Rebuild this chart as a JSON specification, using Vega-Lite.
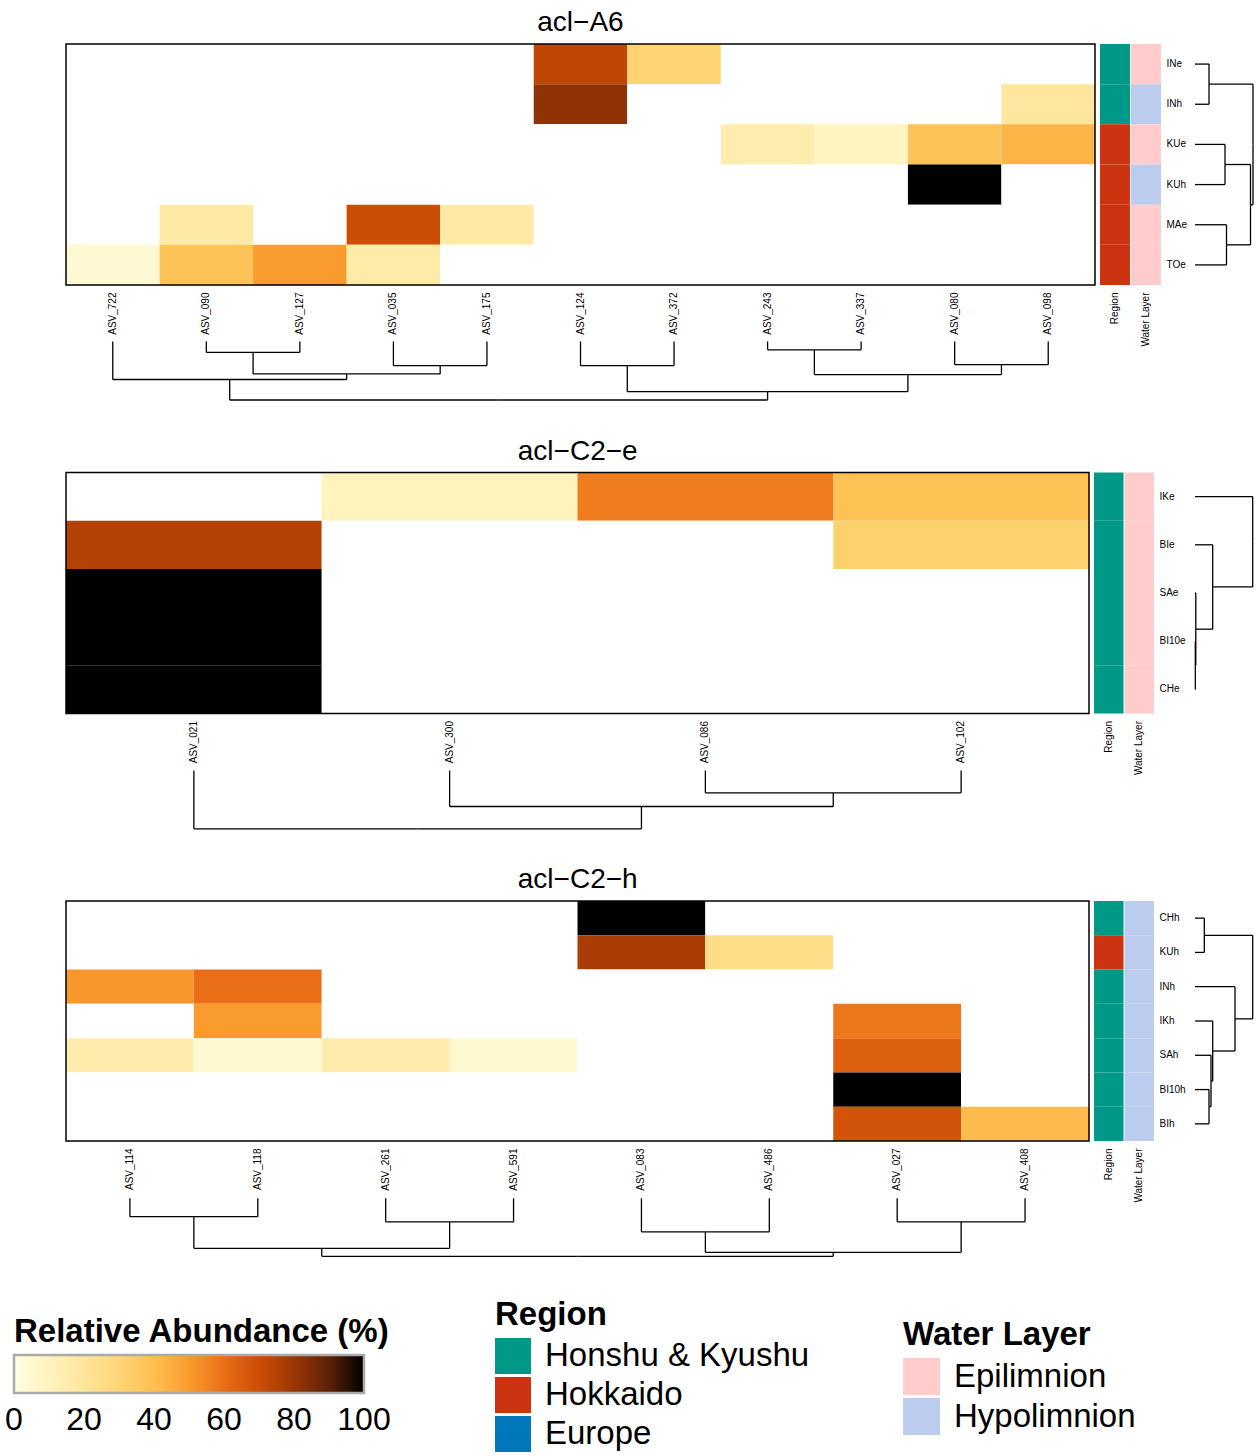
{
"$schema": "https://vega.github.io/schema/vega-lite/v6.json",
"padding": {"left": 14, "top": 9, "right": 0, "bottom": 0},
"background": "white",
"config": {
  "font": "Liberation Sans",
  "view": {"stroke": null},
  "title": {"fontSize": 28, "fontWeight": "normal", "anchor": "middle", "baseline": "alphabetic", "color": "black"},
  "axis": {"labelColor": "black"},
  "legend": {"padding": 0, "titleColor": "black", "labelColor": "black", "titleFontWeight": "bold", "labelLimit": 600, "titleLimit": 600}
},
"spacing": 36.5,
"vconcat": [
{
  "title": {"text": "acl−A6", "dx": -79, "offset": -8.2},
  "bounds": "flush",
  "spacing": 5,
  "hconcat": [
  {
    "width": 1029, "height": 357,
    "layer": [
      {"data": {"name": "hm1"}, "mark": {"type": "rect"},
       "encoding": {
         "x": {"field": "c", "type": "nominal", "scale": {"domain": ["ASV_722","ASV_090","ASV_127","ASV_035","ASV_175","ASV_124","ASV_372","ASV_243","ASV_337","ASV_080","ASV_098"], "paddingInner": 0, "paddingOuter": 0},
               "axis": {"orient": "bottom", "offset": -116, "labelAngle": -90, "ticks": false, "tickSize": 0, "domain": false, "labelPadding": 7, "labelFontSize": 10, "title": null}},
         "y": {"field": "r", "type": "nominal", "scale": {"domain": ["INe","INh","KUe","KUh","MAe","TOe"], "range": [0, 241], "paddingInner": 0, "paddingOuter": 0}, "axis": null},
         "color": {"condition": {"test": "datum.v == 0", "value": "#ffffff"}, "field": "v", "type": "quantitative",
                   "scale": {"domain": [0,10,20,30,40,50,60,70,80,90,100], "range": ["#FFFDE1","#FFF3BE","#FEE59A","#FED577","#FDBF50","#FA9B2D","#EA6E17","#CC4E06","#9C3604","#5C2208","#000000"], "interpolate": "rgb"},
                   "legend": {"title": "Relative Abundance (%)", "orient": "none", "legendX": -52, "legendY": 1272, "direction": "horizontal", "gradientLength": 350, "gradientThickness": 38, "gradientStrokeColor": "#aaaaaa", "gradientStrokeWidth": 2.5, "values": [0,20,40,60,80,100], "labelFontSize": 32, "labelAlign": "center", "labelOffset": 12, "titleFontSize": 33, "titlePadding": 6,
                              "encode": {"labels": {"update": {"align": {"value": "center"}}}}}}
       }},
      {"data": {"values": [{}]}, "mark": {"type": "rect", "filled": false, "stroke": "black", "strokeWidth": 1.5},
       "encoding": {
         "x": {"datum": 0, "type": "quantitative", "scale": {"domain": [0, 11], "nice": false, "zero": false}, "axis": null},
         "x2": {"datum": 11},
         "y": {"datum": 0, "type": "quantitative", "scale": {"domain": [0, 6], "range": [0, 241], "nice": false, "zero": false}, "axis": null},
         "y2": {"datum": 6}
       }},
      {"data": {"name": "cd1"}, "mark": {"type": "rule", "color": "black", "strokeWidth": 1.3},
       "encoding": {
         "x": {"field": "x", "type": "quantitative", "scale": {"domain": [0, 11], "nice": false, "zero": false}, "axis": null},
         "y": {"field": "h", "type": "quantitative", "scale": {"domain": [0, 58.5], "range": [297.5, 356], "nice": false, "zero": false}, "axis": null},
         "y2": {"field": "ph"}
       }},
      {"data": {"name": "cd1"}, "mark": {"type": "rule", "color": "black", "strokeWidth": 1.3},
       "encoding": {
         "x": {"field": "x", "type": "quantitative", "scale": {"domain": [0, 11], "nice": false, "zero": false}, "axis": null},
         "x2": {"field": "px"},
         "y": {"field": "ph", "type": "quantitative", "scale": {"domain": [0, 58.5], "range": [297.5, 356], "nice": false, "zero": false}, "axis": null}
       }}
    ],
    "resolve": {"scale": {"x": "independent", "y": "independent"}}
  },
  {
    "width": 61, "height": 241,
    "data": {"name": "an1"},
    "layer": [
      {"transform": [{"filter": "datum.var == 'Region'"}], "mark": {"type": "rect"},
       "encoding": {
         "x": {"field": "var", "type": "nominal", "scale": {"domain": ["Region","Water Layer"], "paddingInner": 0.03, "paddingOuter": 0}, "axis": {"orient": "bottom", "labelAngle": -90, "ticks": false, "tickSize": 0, "domain": false, "labelPadding": 7, "labelFontSize": 10, "title": null}},
         "y": {"field": "r", "type": "nominal", "scale": {"domain": ["INe","INh","KUe","KUh","MAe","TOe"], "paddingInner": 0, "paddingOuter": 0}, "axis": {"orient": "right", "ticks": false, "tickSize": 0, "domain": false, "labelPadding": 5, "labelFontSize": 10, "title": null}},
         "fill": {"field": "val", "type": "nominal", "scale": {"domain": ["Honshu & Kyushu","Hokkaido","Europe"], "range": ["#009988","#CC3311","#0077BB"]},
                  "legend": {"title": "Region", "orient": "none", "legendX": 429, "legendY": 1255, "symbolType": "square", "symbolSize": 1296, "symbolStrokeWidth": 0, "labelFontSize": 33, "labelOffset": 14, "rowPadding": 3, "titleFontSize": 33, "titlePadding": 6}}
       }},
      {"transform": [{"filter": "datum.var == 'Water Layer'"}], "mark": {"type": "rule", "strokeWidth": 30, "yOffset": -20.08, "y2Offset": 20.08},
       "encoding": {
         "x": {"field": "var", "type": "nominal", "scale": {"domain": ["Region","Water Layer"], "paddingInner": 0.03, "paddingOuter": 0}, "axis": {"orient": "bottom", "labelAngle": -90, "ticks": false, "tickSize": 0, "domain": false, "labelPadding": 7, "labelFontSize": 10, "title": null}},
         "y": {"field": "r", "type": "nominal", "scale": {"domain": ["INe","INh","KUe","KUh","MAe","TOe"], "paddingInner": 0, "paddingOuter": 0}, "axis": {"orient": "right", "ticks": false, "tickSize": 0, "domain": false, "labelPadding": 5, "labelFontSize": 10, "title": null}},
         "y2": {"field": "r"},
         "stroke": {"field": "val", "type": "nominal", "scale": {"domain": ["Epilimnion","Hypolimnion"], "range": ["#FFCCCC","#BBCCEE"]},
                    "legend": {"title": "Water Layer", "orient": "none", "legendX": 837, "legendY": 1275, "symbolType": "square", "symbolSize": 1369, "symbolStrokeWidth": 0, "labelFontSize": 33, "labelOffset": 14, "rowPadding": 3, "titleFontSize": 33, "titlePadding": 6,
                               "encode": {"symbols": {"update": {"fill": {"scale": "stroke", "field": "value"}, "fillOpacity": {"value": 1}, "strokeWidth": {"value": 0}}}}}}
       }}
    ]
  },
  {
    "width": 87.3, "height": 241,
    "data": {"name": "rd1"},
    "layer": [
      {"mark": {"type": "rule", "color": "black", "strokeWidth": 1.3},
       "encoding": {
         "x": {"field": "h", "type": "quantitative", "scale": {"domain": [0, 58.3], "range": [29, 87.3], "nice": false, "zero": false}, "axis": null},
         "x2": {"field": "ph"},
         "y": {"field": "y", "type": "quantitative", "scale": {"domain": [0, 6], "nice": false, "zero": false, "reverse": true}, "axis": null}
       }},
      {"mark": {"type": "rule", "color": "black", "strokeWidth": 1.3},
       "encoding": {
         "x": {"field": "ph", "type": "quantitative", "scale": {"domain": [0, 58.3], "range": [29, 87.3], "nice": false, "zero": false}, "axis": null},
         "y": {"field": "y", "type": "quantitative", "scale": {"domain": [0, 6], "nice": false, "zero": false, "reverse": true}, "axis": null},
         "y2": {"field": "py"}
       }}
    ]
  }
  ]
},
{
  "title": {"text": "acl−C2−e", "dx": -81.6, "offset": -7.9},
  "bounds": "flush",
  "spacing": 5,
  "hconcat": [
  {
    "width": 1023, "height": 357,
    "layer": [
      {"data": {"name": "hm2"}, "mark": {"type": "rect"},
       "encoding": {
         "x": {"field": "c", "type": "nominal", "scale": {"domain": ["ASV_021","ASV_300","ASV_086","ASV_102"], "paddingInner": 0, "paddingOuter": 0},
               "axis": {"orient": "bottom", "offset": -116, "labelAngle": -90, "ticks": false, "tickSize": 0, "domain": false, "labelPadding": 7, "labelFontSize": 10, "title": null}},
         "y": {"field": "r", "type": "nominal", "scale": {"domain": ["IKe","BIe","SAe","BI10e","CHe"], "range": [0, 241], "paddingInner": 0, "paddingOuter": 0}, "axis": null},
         "color": {"condition": {"test": "datum.v == 0", "value": "#ffffff"}, "field": "v", "type": "quantitative",
                   "scale": {"domain": [0,10,20,30,40,50,60,70,80,90,100], "range": ["#FFFDE1","#FFF3BE","#FEE59A","#FED577","#FDBF50","#FA9B2D","#EA6E17","#CC4E06","#9C3604","#5C2208","#000000"], "interpolate": "rgb"}}
       }},
      {"data": {"values": [{}]}, "mark": {"type": "rect", "filled": false, "stroke": "black", "strokeWidth": 1.5},
       "encoding": {
         "x": {"datum": 0, "type": "quantitative", "scale": {"domain": [0, 4], "nice": false, "zero": false}, "axis": null},
         "x2": {"datum": 4},
         "y": {"datum": 0, "type": "quantitative", "scale": {"domain": [0, 5], "range": [0, 241], "nice": false, "zero": false}, "axis": null},
         "y2": {"datum": 5}
       }},
      {"data": {"name": "cd2"}, "mark": {"type": "rule", "color": "black", "strokeWidth": 1.3},
       "encoding": {
         "x": {"field": "x", "type": "quantitative", "scale": {"domain": [0, 4], "nice": false, "zero": false}, "axis": null},
         "y": {"field": "h", "type": "quantitative", "scale": {"domain": [0, 58.3], "range": [298, 356.3], "nice": false, "zero": false}, "axis": null},
         "y2": {"field": "ph"}
       }},
      {"data": {"name": "cd2"}, "mark": {"type": "rule", "color": "black", "strokeWidth": 1.3},
       "encoding": {
         "x": {"field": "x", "type": "quantitative", "scale": {"domain": [0, 4], "nice": false, "zero": false}, "axis": null},
         "x2": {"field": "px"},
         "y": {"field": "ph", "type": "quantitative", "scale": {"domain": [0, 58.3], "range": [298, 356.3], "nice": false, "zero": false}, "axis": null}
       }}
    ],
    "resolve": {"scale": {"x": "independent", "y": "independent"}}
  },
  {
    "width": 60, "height": 241,
    "data": {"name": "an2"},
    "layer": [
      {"transform": [{"filter": "datum.var == 'Region'"}], "mark": {"type": "rect"},
       "encoding": {
         "x": {"field": "var", "type": "nominal", "scale": {"domain": ["Region","Water Layer"], "paddingInner": 0.03, "paddingOuter": 0}, "axis": {"orient": "bottom", "labelAngle": -90, "ticks": false, "tickSize": 0, "domain": false, "labelPadding": 7, "labelFontSize": 10, "title": null}},
         "y": {"field": "r", "type": "nominal", "scale": {"domain": ["IKe","BIe","SAe","BI10e","CHe"], "paddingInner": 0, "paddingOuter": 0}, "axis": {"orient": "right", "ticks": false, "tickSize": 0, "domain": false, "labelPadding": 5, "labelFontSize": 10, "title": null}},
         "fill": {"field": "val", "type": "nominal", "scale": {"domain": ["Honshu & Kyushu","Hokkaido","Europe"], "range": ["#009988","#CC3311","#0077BB"]}}
       }},
      {"transform": [{"filter": "datum.var == 'Water Layer'"}], "mark": {"type": "rule", "strokeWidth": 29.5, "yOffset": -24.1, "y2Offset": 24.1},
       "encoding": {
         "x": {"field": "var", "type": "nominal", "scale": {"domain": ["Region","Water Layer"], "paddingInner": 0.03, "paddingOuter": 0}, "axis": {"orient": "bottom", "labelAngle": -90, "ticks": false, "tickSize": 0, "domain": false, "labelPadding": 7, "labelFontSize": 10, "title": null}},
         "y": {"field": "r", "type": "nominal", "scale": {"domain": ["IKe","BIe","SAe","BI10e","CHe"], "paddingInner": 0, "paddingOuter": 0}, "axis": {"orient": "right", "ticks": false, "tickSize": 0, "domain": false, "labelPadding": 5, "labelFontSize": 10, "title": null}},
         "y2": {"field": "r"},
         "stroke": {"field": "val", "type": "nominal", "scale": {"domain": ["Epilimnion","Hypolimnion"], "range": ["#FFCCCC","#BBCCEE"]}}
       }}
    ]
  },
  {
    "width": 94, "height": 241,
    "data": {"name": "rd2"},
    "layer": [
      {"mark": {"type": "rule", "color": "black", "strokeWidth": 1.3},
       "encoding": {
         "x": {"field": "h", "type": "quantitative", "scale": {"domain": [0, 58], "range": [36, 94], "nice": false, "zero": false}, "axis": null},
         "x2": {"field": "ph"},
         "y": {"field": "y", "type": "quantitative", "scale": {"domain": [0, 5], "nice": false, "zero": false, "reverse": true}, "axis": null}
       }},
      {"mark": {"type": "rule", "color": "black", "strokeWidth": 1.3},
       "encoding": {
         "x": {"field": "ph", "type": "quantitative", "scale": {"domain": [0, 58], "range": [36, 94], "nice": false, "zero": false}, "axis": null},
         "y": {"field": "y", "type": "quantitative", "scale": {"domain": [0, 5], "nice": false, "zero": false, "reverse": true}, "axis": null},
         "y2": {"field": "py"}
       }}
    ]
  }
  ]
},
{
  "title": {"text": "acl−C2−h", "dx": -81.6, "offset": -7.9},
  "bounds": "flush",
  "spacing": 5,
  "hconcat": [
  {
    "width": 1023, "height": 356,
    "layer": [
      {"data": {"name": "hm3"}, "mark": {"type": "rect"},
       "encoding": {
         "x": {"field": "c", "type": "nominal", "scale": {"domain": ["ASV_114","ASV_118","ASV_261","ASV_591","ASV_083","ASV_486","ASV_027","ASV_408"], "paddingInner": 0, "paddingOuter": 0},
               "axis": {"orient": "bottom", "offset": -116, "labelAngle": -90, "ticks": false, "tickSize": 0, "domain": false, "labelPadding": 7, "labelFontSize": 10, "title": null}},
         "y": {"field": "r", "type": "nominal", "scale": {"domain": ["CHh","KUh","INh","IKh","SAh","BI10h","BIh"], "range": [0, 240], "paddingInner": 0, "paddingOuter": 0}, "axis": null},
         "color": {"condition": {"test": "datum.v == 0", "value": "#ffffff"}, "field": "v", "type": "quantitative",
                   "scale": {"domain": [0,10,20,30,40,50,60,70,80,90,100], "range": ["#FFFDE1","#FFF3BE","#FEE59A","#FED577","#FDBF50","#FA9B2D","#EA6E17","#CC4E06","#9C3604","#5C2208","#000000"], "interpolate": "rgb"}}
       }},
      {"data": {"values": [{}]}, "mark": {"type": "rect", "filled": false, "stroke": "black", "strokeWidth": 1.5},
       "encoding": {
         "x": {"datum": 0, "type": "quantitative", "scale": {"domain": [0, 8], "nice": false, "zero": false}, "axis": null},
         "x2": {"datum": 8},
         "y": {"datum": 0, "type": "quantitative", "scale": {"domain": [0, 7], "range": [0, 240], "nice": false, "zero": false}, "axis": null},
         "y2": {"datum": 7}
       }},
      {"data": {"name": "cd3"}, "mark": {"type": "rule", "color": "black", "strokeWidth": 1.3},
       "encoding": {
         "x": {"field": "x", "type": "quantitative", "scale": {"domain": [0, 8], "nice": false, "zero": false}, "axis": null},
         "y": {"field": "h", "type": "quantitative", "scale": {"domain": [0, 58], "range": [297.3, 355.3], "nice": false, "zero": false}, "axis": null},
         "y2": {"field": "ph"}
       }},
      {"data": {"name": "cd3"}, "mark": {"type": "rule", "color": "black", "strokeWidth": 1.3},
       "encoding": {
         "x": {"field": "x", "type": "quantitative", "scale": {"domain": [0, 8], "nice": false, "zero": false}, "axis": null},
         "x2": {"field": "px"},
         "y": {"field": "ph", "type": "quantitative", "scale": {"domain": [0, 58], "range": [297.3, 355.3], "nice": false, "zero": false}, "axis": null}
       }}
    ],
    "resolve": {"scale": {"x": "independent", "y": "independent"}}
  },
  {
    "width": 60, "height": 240,
    "data": {"name": "an3"},
    "layer": [
      {"transform": [{"filter": "datum.var == 'Region'"}], "mark": {"type": "rect"},
       "encoding": {
         "x": {"field": "var", "type": "nominal", "scale": {"domain": ["Region","Water Layer"], "paddingInner": 0.03, "paddingOuter": 0}, "axis": {"orient": "bottom", "labelAngle": -90, "ticks": false, "tickSize": 0, "domain": false, "labelPadding": 7, "labelFontSize": 10, "title": null}},
         "y": {"field": "r", "type": "nominal", "scale": {"domain": ["CHh","KUh","INh","IKh","SAh","BI10h","BIh"], "paddingInner": 0, "paddingOuter": 0}, "axis": {"orient": "right", "ticks": false, "tickSize": 0, "domain": false, "labelPadding": 5, "labelFontSize": 10, "title": null}},
         "fill": {"field": "val", "type": "nominal", "scale": {"domain": ["Honshu & Kyushu","Hokkaido","Europe"], "range": ["#009988","#CC3311","#0077BB"]}}
       }},
      {"transform": [{"filter": "datum.var == 'Water Layer'"}], "mark": {"type": "rule", "strokeWidth": 29.5, "yOffset": -17.14, "y2Offset": 17.14},
       "encoding": {
         "x": {"field": "var", "type": "nominal", "scale": {"domain": ["Region","Water Layer"], "paddingInner": 0.03, "paddingOuter": 0}, "axis": {"orient": "bottom", "labelAngle": -90, "ticks": false, "tickSize": 0, "domain": false, "labelPadding": 7, "labelFontSize": 10, "title": null}},
         "y": {"field": "r", "type": "nominal", "scale": {"domain": ["CHh","KUh","INh","IKh","SAh","BI10h","BIh"], "paddingInner": 0, "paddingOuter": 0}, "axis": {"orient": "right", "ticks": false, "tickSize": 0, "domain": false, "labelPadding": 5, "labelFontSize": 10, "title": null}},
         "y2": {"field": "r"},
         "stroke": {"field": "val", "type": "nominal", "scale": {"domain": ["Epilimnion","Hypolimnion"], "range": ["#FFCCCC","#BBCCEE"]}}
       }}
    ]
  },
  {
    "width": 94, "height": 240,
    "data": {"name": "rd3"},
    "layer": [
      {"mark": {"type": "rule", "color": "black", "strokeWidth": 1.3},
       "encoding": {
         "x": {"field": "h", "type": "quantitative", "scale": {"domain": [0, 58], "range": [36, 94], "nice": false, "zero": false}, "axis": null},
         "x2": {"field": "ph"},
         "y": {"field": "y", "type": "quantitative", "scale": {"domain": [0, 7], "nice": false, "zero": false, "reverse": true}, "axis": null}
       }},
      {"mark": {"type": "rule", "color": "black", "strokeWidth": 1.3},
       "encoding": {
         "x": {"field": "ph", "type": "quantitative", "scale": {"domain": [0, 58], "range": [36, 94], "nice": false, "zero": false}, "axis": null},
         "y": {"field": "y", "type": "quantitative", "scale": {"domain": [0, 7], "nice": false, "zero": false, "reverse": true}, "axis": null},
         "y2": {"field": "py"}
       }}
    ]
  }
  ]
}
],
"datasets": {
"hm1": [
{"r":"INe","c":"ASV_722","v":0},{"r":"INe","c":"ASV_090","v":0},{"r":"INe","c":"ASV_127","v":0},{"r":"INe","c":"ASV_035","v":0},{"r":"INe","c":"ASV_175","v":0},{"r":"INe","c":"ASV_124","v":73},{"r":"INe","c":"ASV_372","v":31},{"r":"INe","c":"ASV_243","v":0},{"r":"INe","c":"ASV_337","v":0},{"r":"INe","c":"ASV_080","v":0},{"r":"INe","c":"ASV_098","v":0},
{"r":"INh","c":"ASV_722","v":0},{"r":"INh","c":"ASV_090","v":0},{"r":"INh","c":"ASV_127","v":0},{"r":"INh","c":"ASV_035","v":0},{"r":"INh","c":"ASV_175","v":0},{"r":"INh","c":"ASV_124","v":82},{"r":"INh","c":"ASV_372","v":0},{"r":"INh","c":"ASV_243","v":0},{"r":"INh","c":"ASV_337","v":0},{"r":"INh","c":"ASV_080","v":0},{"r":"INh","c":"ASV_098","v":19},
{"r":"KUe","c":"ASV_722","v":0},{"r":"KUe","c":"ASV_090","v":0},{"r":"KUe","c":"ASV_127","v":0},{"r":"KUe","c":"ASV_035","v":0},{"r":"KUe","c":"ASV_175","v":0},{"r":"KUe","c":"ASV_124","v":0},{"r":"KUe","c":"ASV_372","v":0},{"r":"KUe","c":"ASV_243","v":14},{"r":"KUe","c":"ASV_337","v":9},{"r":"KUe","c":"ASV_080","v":38},{"r":"KUe","c":"ASV_098","v":43},
{"r":"KUh","c":"ASV_722","v":0},{"r":"KUh","c":"ASV_090","v":0},{"r":"KUh","c":"ASV_127","v":0},{"r":"KUh","c":"ASV_035","v":0},{"r":"KUh","c":"ASV_175","v":0},{"r":"KUh","c":"ASV_124","v":0},{"r":"KUh","c":"ASV_372","v":0},{"r":"KUh","c":"ASV_243","v":0},{"r":"KUh","c":"ASV_337","v":0},{"r":"KUh","c":"ASV_080","v":100},{"r":"KUh","c":"ASV_098","v":0},
{"r":"MAe","c":"ASV_722","v":0},{"r":"MAe","c":"ASV_090","v":17},{"r":"MAe","c":"ASV_127","v":0},{"r":"MAe","c":"ASV_035","v":70},{"r":"MAe","c":"ASV_175","v":17},{"r":"MAe","c":"ASV_124","v":0},{"r":"MAe","c":"ASV_372","v":0},{"r":"MAe","c":"ASV_243","v":0},{"r":"MAe","c":"ASV_337","v":0},{"r":"MAe","c":"ASV_080","v":0},{"r":"MAe","c":"ASV_098","v":0},
{"r":"TOe","c":"ASV_722","v":4},{"r":"TOe","c":"ASV_090","v":38},{"r":"TOe","c":"ASV_127","v":50},{"r":"TOe","c":"ASV_035","v":16},{"r":"TOe","c":"ASV_175","v":0},{"r":"TOe","c":"ASV_124","v":0},{"r":"TOe","c":"ASV_372","v":0},{"r":"TOe","c":"ASV_243","v":0},{"r":"TOe","c":"ASV_337","v":0},{"r":"TOe","c":"ASV_080","v":0},{"r":"TOe","c":"ASV_098","v":0}
],
"hm2": [
{"r":"IKe","c":"ASV_021","v":0},{"r":"IKe","c":"ASV_300","v":10},{"r":"IKe","c":"ASV_086","v":57},{"r":"IKe","c":"ASV_102","v":39},
{"r":"BIe","c":"ASV_021","v":75},{"r":"BIe","c":"ASV_300","v":0},{"r":"BIe","c":"ASV_086","v":0},{"r":"BIe","c":"ASV_102","v":32},
{"r":"SAe","c":"ASV_021","v":100},{"r":"SAe","c":"ASV_300","v":0},{"r":"SAe","c":"ASV_086","v":0},{"r":"SAe","c":"ASV_102","v":0},
{"r":"BI10e","c":"ASV_021","v":100},{"r":"BI10e","c":"ASV_300","v":0},{"r":"BI10e","c":"ASV_086","v":0},{"r":"BI10e","c":"ASV_102","v":0},
{"r":"CHe","c":"ASV_021","v":100},{"r":"CHe","c":"ASV_300","v":0},{"r":"CHe","c":"ASV_086","v":0},{"r":"CHe","c":"ASV_102","v":0}
],
"hm3": [
{"r":"CHh","c":"ASV_114","v":0},{"r":"CHh","c":"ASV_118","v":0},{"r":"CHh","c":"ASV_261","v":0},{"r":"CHh","c":"ASV_591","v":0},{"r":"CHh","c":"ASV_083","v":100},{"r":"CHh","c":"ASV_486","v":0},{"r":"CHh","c":"ASV_027","v":0},{"r":"CHh","c":"ASV_408","v":0},
{"r":"KUh","c":"ASV_114","v":0},{"r":"KUh","c":"ASV_118","v":0},{"r":"KUh","c":"ASV_261","v":0},{"r":"KUh","c":"ASV_591","v":0},{"r":"KUh","c":"ASV_083","v":77},{"r":"KUh","c":"ASV_486","v":25},{"r":"KUh","c":"ASV_027","v":0},{"r":"KUh","c":"ASV_408","v":0},
{"r":"INh","c":"ASV_114","v":51},{"r":"INh","c":"ASV_118","v":60},{"r":"INh","c":"ASV_261","v":0},{"r":"INh","c":"ASV_591","v":0},{"r":"INh","c":"ASV_083","v":0},{"r":"INh","c":"ASV_486","v":0},{"r":"INh","c":"ASV_027","v":0},{"r":"INh","c":"ASV_408","v":0},
{"r":"IKh","c":"ASV_114","v":0},{"r":"IKh","c":"ASV_118","v":50},{"r":"IKh","c":"ASV_261","v":0},{"r":"IKh","c":"ASV_591","v":0},{"r":"IKh","c":"ASV_083","v":0},{"r":"IKh","c":"ASV_486","v":0},{"r":"IKh","c":"ASV_027","v":58},{"r":"IKh","c":"ASV_408","v":0},
{"r":"SAh","c":"ASV_114","v":15},{"r":"SAh","c":"ASV_118","v":5},{"r":"SAh","c":"ASV_261","v":15},{"r":"SAh","c":"ASV_591","v":5},{"r":"SAh","c":"ASV_083","v":0},{"r":"SAh","c":"ASV_486","v":0},{"r":"SAh","c":"ASV_027","v":64},{"r":"SAh","c":"ASV_408","v":0},
{"r":"BI10h","c":"ASV_114","v":0},{"r":"BI10h","c":"ASV_118","v":0},{"r":"BI10h","c":"ASV_261","v":0},{"r":"BI10h","c":"ASV_591","v":0},{"r":"BI10h","c":"ASV_083","v":0},{"r":"BI10h","c":"ASV_486","v":0},{"r":"BI10h","c":"ASV_027","v":100},{"r":"BI10h","c":"ASV_408","v":0},
{"r":"BIh","c":"ASV_114","v":0},{"r":"BIh","c":"ASV_118","v":0},{"r":"BIh","c":"ASV_261","v":0},{"r":"BIh","c":"ASV_591","v":0},{"r":"BIh","c":"ASV_083","v":0},{"r":"BIh","c":"ASV_486","v":0},{"r":"BIh","c":"ASV_027","v":68},{"r":"BIh","c":"ASV_408","v":41}
],
"an1": [
{"r":"INe","var":"Region","val":"Honshu & Kyushu"},{"r":"INe","var":"Water Layer","val":"Epilimnion"},
{"r":"INh","var":"Region","val":"Honshu & Kyushu"},{"r":"INh","var":"Water Layer","val":"Hypolimnion"},
{"r":"KUe","var":"Region","val":"Hokkaido"},{"r":"KUe","var":"Water Layer","val":"Epilimnion"},
{"r":"KUh","var":"Region","val":"Hokkaido"},{"r":"KUh","var":"Water Layer","val":"Hypolimnion"},
{"r":"MAe","var":"Region","val":"Hokkaido"},{"r":"MAe","var":"Water Layer","val":"Epilimnion"},
{"r":"TOe","var":"Region","val":"Hokkaido"},{"r":"TOe","var":"Water Layer","val":"Epilimnion"}
],
"an2": [
{"r":"IKe","var":"Region","val":"Honshu & Kyushu"},{"r":"IKe","var":"Water Layer","val":"Epilimnion"},
{"r":"BIe","var":"Region","val":"Honshu & Kyushu"},{"r":"BIe","var":"Water Layer","val":"Epilimnion"},
{"r":"SAe","var":"Region","val":"Honshu & Kyushu"},{"r":"SAe","var":"Water Layer","val":"Epilimnion"},
{"r":"BI10e","var":"Region","val":"Honshu & Kyushu"},{"r":"BI10e","var":"Water Layer","val":"Epilimnion"},
{"r":"CHe","var":"Region","val":"Honshu & Kyushu"},{"r":"CHe","var":"Water Layer","val":"Epilimnion"}
],
"an3": [
{"r":"CHh","var":"Region","val":"Honshu & Kyushu"},{"r":"CHh","var":"Water Layer","val":"Hypolimnion"},
{"r":"KUh","var":"Region","val":"Hokkaido"},{"r":"KUh","var":"Water Layer","val":"Hypolimnion"},
{"r":"INh","var":"Region","val":"Honshu & Kyushu"},{"r":"INh","var":"Water Layer","val":"Hypolimnion"},
{"r":"IKh","var":"Region","val":"Honshu & Kyushu"},{"r":"IKh","var":"Water Layer","val":"Hypolimnion"},
{"r":"SAh","var":"Region","val":"Honshu & Kyushu"},{"r":"SAh","var":"Water Layer","val":"Hypolimnion"},
{"r":"BI10h","var":"Region","val":"Honshu & Kyushu"},{"r":"BI10h","var":"Water Layer","val":"Hypolimnion"},
{"r":"BIh","var":"Region","val":"Honshu & Kyushu"},{"r":"BIh","var":"Water Layer","val":"Hypolimnion"}
],
"cd1": [
{"node":"ASV_722","x":0.5,"h":0,"px":1.75,"ph":38},
{"node":"ASV_090","x":1.5,"h":0,"px":2,"ph":10.9},
{"node":"ASV_127","x":2.5,"h":0,"px":2,"ph":10.9},
{"node":"ASV_035","x":3.5,"h":0,"px":4,"ph":24.1},
{"node":"ASV_175","x":4.5,"h":0,"px":4,"ph":24.1},
{"node":"ASV_124","x":5.5,"h":0,"px":6,"ph":24.1},
{"node":"ASV_372","x":6.5,"h":0,"px":6,"ph":24.1},
{"node":"ASV_243","x":7.5,"h":0,"px":8,"ph":8.3},
{"node":"ASV_337","x":8.5,"h":0,"px":8,"ph":8.3},
{"node":"ASV_080","x":9.5,"h":0,"px":10,"ph":23.2},
{"node":"ASV_098","x":10.5,"h":0,"px":10,"ph":23.2},
{"node":"n090_127","x":2,"h":10.9,"px":3,"ph":32.4},
{"node":"n035_175","x":4,"h":24.1,"px":3,"ph":32.4},
{"node":"nA","x":3,"h":32.4,"px":1.75,"ph":38},
{"node":"n124_372","x":6,"h":24.1,"px":7.5,"ph":50.2},
{"node":"n243_337","x":8,"h":8.3,"px":9,"ph":33.1},
{"node":"n080_098","x":10,"h":23.2,"px":9,"ph":33.1},
{"node":"nC","x":9,"h":33.1,"px":7.5,"ph":50.2},
{"node":"nB","x":1.75,"h":38,"px":4.625,"ph":58.5},
{"node":"nD","x":7.5,"h":50.2,"px":4.625,"ph":58.5}
],
"cd2": [
{"node":"ASV_021","x":0.5,"h":0,"px":1.375,"ph":58.3},
{"node":"ASV_300","x":1.5,"h":0,"px":2.25,"ph":36},
{"node":"ASV_086","x":2.5,"h":0,"px":3,"ph":22.3},
{"node":"ASV_102","x":3.5,"h":0,"px":3,"ph":22.3},
{"node":"n086_102","x":3,"h":22.3,"px":2.25,"ph":36},
{"node":"n300","x":2.25,"h":36,"px":1.375,"ph":58.3}
],
"cd3": [
{"node":"ASV_114","x":0.5,"h":0,"px":1,"ph":18.4},
{"node":"ASV_118","x":1.5,"h":0,"px":1,"ph":18.4},
{"node":"ASV_261","x":2.5,"h":0,"px":3,"ph":23.5},
{"node":"ASV_591","x":3.5,"h":0,"px":3,"ph":23.5},
{"node":"ASV_083","x":4.5,"h":0,"px":5,"ph":33.5},
{"node":"ASV_486","x":5.5,"h":0,"px":5,"ph":33.5},
{"node":"ASV_027","x":6.5,"h":0,"px":7,"ph":23.5},
{"node":"ASV_408","x":7.5,"h":0,"px":7,"ph":23.5},
{"node":"n114_118","x":1,"h":18.4,"px":2,"ph":50},
{"node":"n261_591","x":3,"h":23.5,"px":2,"ph":50},
{"node":"n083_486","x":5,"h":33.5,"px":6,"ph":54},
{"node":"n027_408","x":7,"h":23.5,"px":6,"ph":54},
{"node":"nL","x":2,"h":50,"px":4,"ph":58},
{"node":"nR","x":6,"h":54,"px":4,"ph":58}
],
"rd1": [
{"node":"INe","y":0.5,"h":0,"py":1,"ph":14},
{"node":"INh","y":1.5,"h":0,"py":1,"ph":14},
{"node":"KUe","y":2.5,"h":0,"py":3,"ph":30},
{"node":"KUh","y":3.5,"h":0,"py":3,"ph":30},
{"node":"MAe","y":4.5,"h":0,"py":5,"ph":31.5},
{"node":"TOe","y":5.5,"h":0,"py":5,"ph":31.5},
{"node":"nIN","y":1,"h":14,"py":2.5,"ph":58},
{"node":"nKU","y":3,"h":30,"py":4,"ph":55.5},
{"node":"nMT","y":5,"h":31.5,"py":4,"ph":55.5},
{"node":"nKMT","y":4,"h":55.5,"py":2.5,"ph":58}
],
"rd2": [
{"node":"IKe","y":0.5,"h":0,"py":1.4375,"ph":57.7},
{"node":"BIe","y":1.5,"h":0,"py":2.375,"ph":17.7},
{"node":"SAe","y":2.5,"h":0,"py":3.25,"ph":0.8},
{"node":"BI10e","y":3.5,"h":0,"py":4,"ph":0.3},
{"node":"CHe","y":4.5,"h":0,"py":4,"ph":0.3},
{"node":"nBC","y":4,"h":0.3,"py":3.25,"ph":0.8},
{"node":"nS","y":3.25,"h":0.8,"py":2.375,"ph":17.7},
{"node":"nB","y":2.375,"h":17.7,"py":1.4375,"ph":57.7}
],
"rd3": [
{"node":"CHh","y":0.5,"h":0,"py":1,"ph":9.3},
{"node":"KUh","y":1.5,"h":0,"py":1,"ph":9.3},
{"node":"INh","y":2.5,"h":0,"py":3.4375,"ph":40},
{"node":"IKh","y":3.5,"h":0,"py":4.375,"ph":17.7},
{"node":"SAh","y":4.5,"h":0,"py":5.25,"ph":16},
{"node":"BI10h","y":5.5,"h":0,"py":6,"ph":14},
{"node":"BIh","y":6.5,"h":0,"py":6,"ph":14},
{"node":"nCK","y":1,"h":9.3,"py":2.21875,"ph":57.7},
{"node":"nBB","y":6,"h":14,"py":5.25,"ph":16},
{"node":"nS","y":5.25,"h":16,"py":4.375,"ph":17.7},
{"node":"nI","y":4.375,"h":17.7,"py":3.4375,"ph":40},
{"node":"nN","y":3.4375,"h":40,"py":2.21875,"ph":57.7}
]
}
}
